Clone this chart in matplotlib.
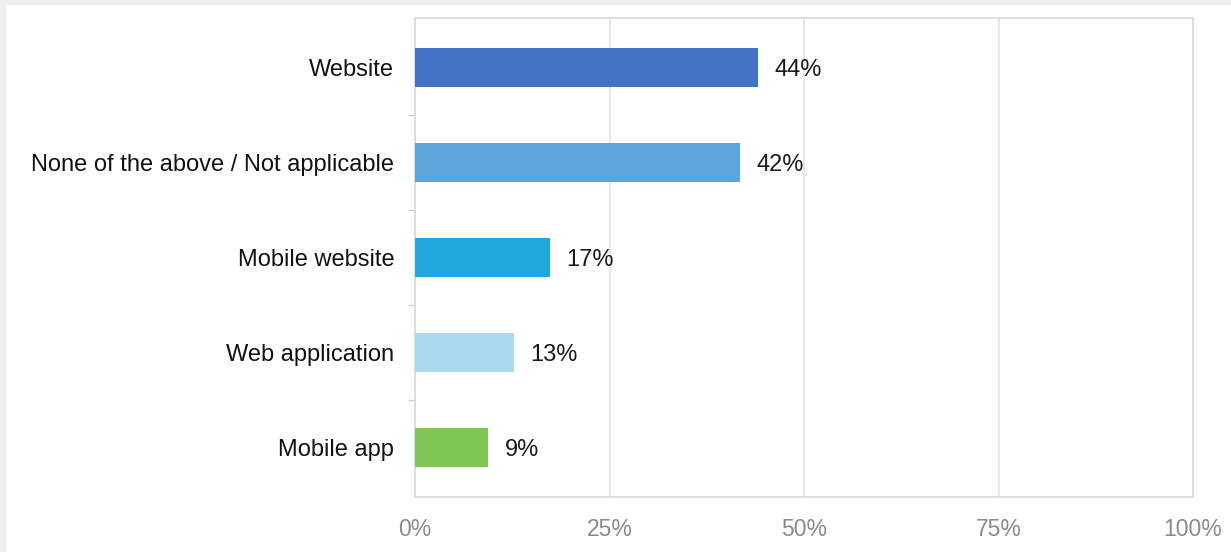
import matplotlib.pyplot as plt
from matplotlib.patches import Rectangle

plt.rcParams['font.family'] = ['Liberation Sans', 'DejaVu Sans']

# ------------------ data ------------------
categories = ["Website", "None of the above / Not applicable", "Mobile website",
              "Web application", "Mobile app"]
values = [44.1, 41.8, 17.4, 12.7, 9.4]
value_labels = ["44%", "42%", "17%", "13%", "9%"]
bar_colors = ["#4472c4", "#5ba4dc", "#1fa9dc", "#a9d9f0", "#7cc756"]
xticks = [0, 25, 50, 75, 100]
xtick_labels = ["0%", "25%", "50%", "75%", "100%"]

W, H = 1231, 552
fig = plt.figure(figsize=(W / 100, H / 100), dpi=100)
fig.patch.set_facecolor("#efefef")
# white card
fig.add_artist(Rectangle((6 / W, 0), 1 - 6 / W, 1 - 5 / H, transform=fig.transFigure,
                         facecolor="white", edgecolor="none", zorder=0))

ax = fig.add_axes([415 / W, 1 - 497 / H, (1193 - 415) / W, (497 - 18) / H])
ax.set_facecolor("none")

ypos = list(range(len(categories)))
ax.barh(ypos, values, height=0.41, color=bar_colors, zorder=3)
for y, v, lab in zip(ypos, values, value_labels):
    ax.text(v + 2.1, y, lab, va="center_baseline", ha="left", fontsize=17, color="#1a1a1a")

ax.set_xlim(0, 100)
ax.set_ylim(len(categories) - 0.48, -0.52)
ax.set_xticks(xticks)
ax.set_xticklabels(xtick_labels, fontsize=16.5, color="#8a8a8a")
ax.tick_params(axis="x", length=0, pad=15)
ax.grid(axis="x", color="#e3e3e3", linewidth=1.2, zorder=0)

# y labels + boundary ticks
ax.set_yticks(ypos)
ax.set_yticklabels(categories, fontsize=17, color="#111111", va="center_baseline")
ax.tick_params(axis="y", length=0, pad=15)
ax.set_yticks([i + 0.5 for i in range(len(categories) - 1)], minor=True)
ax.tick_params(axis="y", which="minor", length=5, color="#cccccc", width=1)

for side in ["top", "right", "left", "bottom"]:
    ax.spines[side].set_color("#d9d9d9")
    ax.spines[side].set_linewidth(1.2)

fig.savefig("out.png", dpi=100, facecolor=fig.get_facecolor())
